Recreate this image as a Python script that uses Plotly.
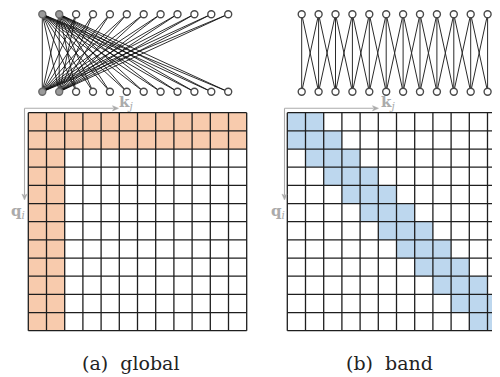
import plotly.graph_objects as go

# ---------------- data ----------------
n_tokens = 12
tokens = list(range(n_tokens))
global_tokens = [0, 1]          # tokens that attend / are attended globally
band_half_width = 1             # |i - j| <= 1
captions = ["(a)&nbsp;&nbsp;global", "(b)&nbsp;&nbsp;band"]
key_label = "<b>k</b><sub><i>j</i></sub>"
query_label = "<b>q</b><sub><i>i</i></sub>"

global_mask = [[1 if (i in global_tokens or j in global_tokens) else 0 for j in tokens] for i in tokens]
band_mask = [[1 if abs(i - j) <= band_half_width else 0 for j in tokens] for i in tokens]

# ---------------- helpers ----------------
# the page body has an 8px margin; size the figure so it fills the 500x377 window
OFF = 8
W, H = 500 - OFF, 377 - OFF
def px(x):
    return (x - OFF) / W
def py(y):
    return 1 - (y - OFF) / H

ORANGE = "#F8CBAD"
BLUE = "#BDD7EE"
GRIDC = "#1e1e1e"
ARROWC = "#ababab"

fig = go.Figure()

def grid_lines(n):
    xs, ys = [], []
    for k in range(n + 1):
        b = k - 0.5
        xs += [-0.5, n - 0.5, None]
        ys += [b, b, None]
        xs += [b, b, None]
        ys += [-0.5, n - 0.5, None]
    return xs, ys

def edges(mask):
    xs, ys = [], []
    for i in tokens:
        for j in tokens:
            if mask[i][j]:
                xs += [i, j, None]
                ys += [1, 0, None]
    return xs, ys

# heatmaps
for k, (mask, col) in enumerate([(global_mask, ORANGE), (band_mask, BLUE)]):
    xa = "x" if k == 0 else "x2"
    ya = "y" if k == 0 else "y2"
    fig.add_trace(go.Heatmap(z=mask, x=tokens, y=tokens, zmin=0, zmax=1,
                             colorscale=[[0, "white"], [1, col]], showscale=False,
                             xaxis=xa, yaxis=ya, hoverinfo="skip"))
    gx, gy = grid_lines(n_tokens)
    fig.add_trace(go.Scatter(x=gx, y=gy, mode="lines", line=dict(color=GRIDC, width=1.3),
                             xaxis=xa, yaxis=ya, hoverinfo="skip", showlegend=False))

# graphs
for k, (mask, lc, lw) in enumerate([(global_mask, "rgba(10,10,10,0.85)", 1.0),
                                    (band_mask, "#2a2a2a", 1.0)]):
    xa = "x3" if k == 0 else "x4"
    ya = "y3" if k == 0 else "y4"
    ex, ey = edges(mask)
    fig.add_trace(go.Scatter(x=ex, y=ey, mode="lines", line=dict(color=lc, width=lw),
                             xaxis=xa, yaxis=ya, hoverinfo="skip", showlegend=False))
    for layer in [1, 0]:
        fills = []
        lines = []
        for t in tokens:
            if k == 0 and t in global_tokens:
                fills.append("#9a9a9a"); lines.append("#6a6a6a")
            else:
                fills.append("white"); lines.append("#4a4a4a")
        fig.add_trace(go.Scatter(x=tokens, y=[layer] * n_tokens, mode="markers",
                                 marker=dict(size=7, color=fills,
                                             line=dict(color=lines, width=1.4)),
                                 xaxis=xa, yaxis=ya, hoverinfo="skip", showlegend=False))

# ---------------- layout ----------------
cell = 18.2
pad = 0.1
def hm_xdomain(left):
    a = left - pad * cell
    b = left + (n_tokens + pad) * cell
    return [max(0, px(a)), min(1, px(b))]

top, bottom = 112.7, 330.7
ydom = [py(bottom + pad * cell), py(top - pad * cell)]

axis_off = dict(visible=False, showgrid=False, zeroline=False)
right_left = 287.3
right_max = -0.5 + (500 - right_left) / cell

fig.update_layout(
    width=W, height=H, margin=dict(l=0, r=0, t=0, b=0),
    paper_bgcolor="white", plot_bgcolor="rgba(0,0,0,0)", showlegend=False,
    xaxis=dict(domain=hm_xdomain(28.3), range=[-0.5 - pad, n_tokens - 0.5 + pad], **axis_off),
    yaxis=dict(domain=ydom, range=[n_tokens - 0.5 + pad, -0.5 - pad], **axis_off),
    xaxis2=dict(domain=hm_xdomain(right_left), range=[-0.5 - pad, right_max], **axis_off),
    yaxis2=dict(domain=ydom, range=[n_tokens - 0.5 + pad, -0.5 - pad], **axis_off),
    # overlay axis in window pixels, used for the decorative axis arrows
    xaxis5=dict(domain=[0, 1], range=[OFF, 500], **axis_off),
    yaxis5=dict(domain=[0, 1], range=[377, OFF], **axis_off),
)

sp = 16.9
gy_pad = 0.08
unit = 91.7 - 13.3
gdom_y = [py(91.7 + gy_pad * unit), min(1, py(13.3 - gy_pad * unit))]
for name, x0 in [("3", 42.3), ("4", 301.7)]:
    fig.update_layout(**{
        "xaxis" + name: dict(domain=[px(x0 - sp / 2), px(x0 + 11 * sp + sp / 2)],
                             range=[-0.5, n_tokens - 0.5], **axis_off),
        "yaxis" + name: dict(domain=gdom_y, range=[-gy_pad, 1 + gy_pad], **axis_off),
    })

shapes = []
annotations = []
ah = 6.0   # arrowhead length
aw = 2.6   # arrowhead half width
for (ox, kx, qx, cx, cap) in [(24.5, 126, 17.5, 130, captions[0]),
                              (284.5, 388, 278, 389, captions[1])]:
    oy = 108.3
    hx = ox + 94    # horizontal arrow tip
    vy = 200        # vertical arrow tip
    line_style = dict(color=ARROWC, width=1.1)
    shapes.append(dict(type="line", xref="x5", yref="y5", x0=ox, y0=oy, x1=hx - ah + 1, y1=oy,
                       line=line_style))
    shapes.append(dict(type="line", xref="x5", yref="y5", x0=ox, y0=oy, x1=ox, y1=vy - ah + 1,
                       line=line_style))
    shapes.append(dict(type="path", xref="x5", yref="y5",
                       path=f"M {hx} {oy} L {hx - ah} {oy - aw} L {hx - ah + 1.5} {oy} L {hx - ah} {oy + aw} Z",
                       fillcolor=ARROWC, line=dict(color=ARROWC, width=0.5)))
    shapes.append(dict(type="path", xref="x5", yref="y5",
                       path=f"M {ox} {vy} L {ox - aw} {vy - ah} L {ox} {vy - ah + 1.5} L {ox + aw} {vy - ah} Z",
                       fillcolor=ARROWC, line=dict(color=ARROWC, width=0.5)))
    annotations.append(dict(x=px(kx), y=py(103), xref="paper", yref="paper", showarrow=False,
                            xanchor="center", yanchor="middle",
                            text=key_label, font=dict(family="DejaVu Serif", size=15, color=ARROWC)))
    annotations.append(dict(x=px(qx), y=py(211), xref="paper", yref="paper", showarrow=False,
                            xanchor="center", yanchor="middle",
                            text=query_label, font=dict(family="DejaVu Serif", size=15, color=ARROWC)))
    annotations.append(dict(x=px(cx), y=py(363), xref="paper", yref="paper", showarrow=False,
                            xanchor="center", yanchor="middle",
                            text=cap, font=dict(family="DejaVu Serif", size=19, color="#222")))

# an invisible trace anchors the overlay axes so the shapes can use them
fig.add_trace(go.Scatter(x=[OFF], y=[OFF], mode="markers", marker=dict(opacity=0),
                         xaxis="x5", yaxis="y5", hoverinfo="skip", showlegend=False))
fig.update_layout(shapes=shapes, annotations=annotations)

fig.write_html("out.html")
